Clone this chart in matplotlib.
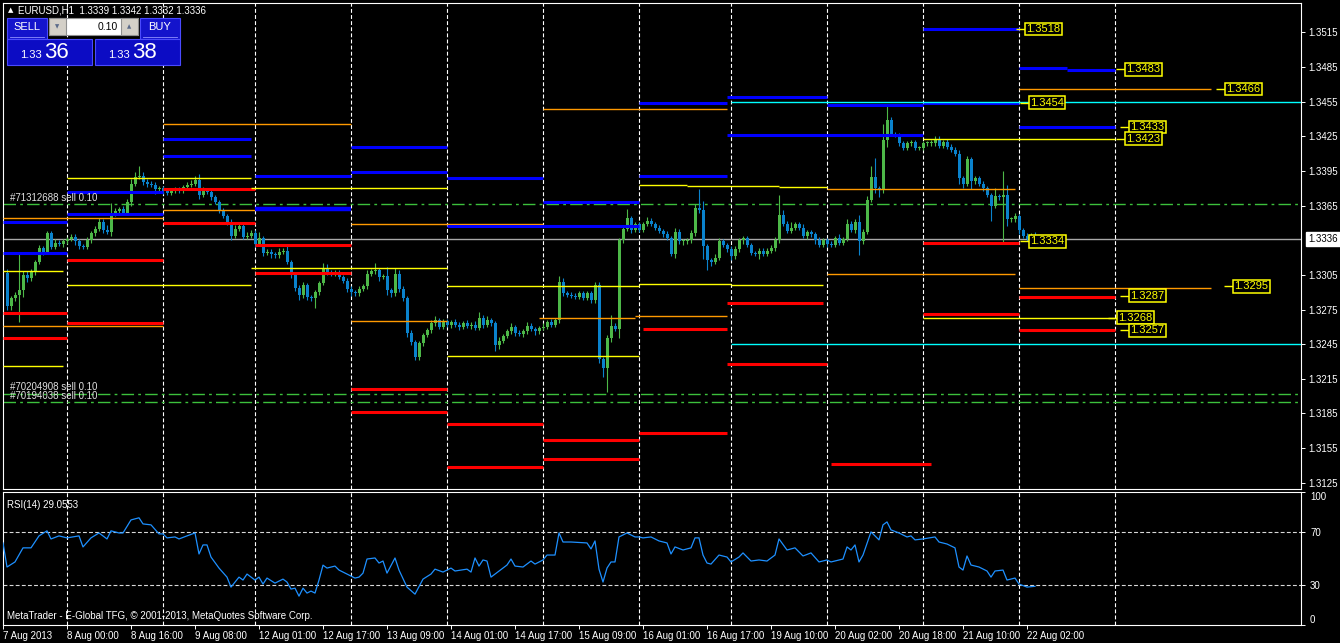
import matplotlib
matplotlib.use("Agg")
import matplotlib.pyplot as plt
from matplotlib.patches import Rectangle

# ---------------------------------------------------------------------------
# Theme (MetaTrader 4, black chart)
# ---------------------------------------------------------------------------
W, H = 1340, 643
BG = "#000000"
FG = "#FFFFFF"
BULL = "#4DB848"
BEAR = "#0A82CC"
RSI_COLOR = "#1E90FF"
ORDER_COLOR = "#3CC03C"
PIP = 0.0001
FONT = ["Liberation Sans", "DejaVu Sans"]
plt.rcParams["font.family"] = FONT

# ---------------------------------------------------------------------------
# Data: EURUSD H1, bar 0 = 7 Aug 2013 09:00 ... bar 257 = 22 Aug 04:00
# ---------------------------------------------------------------------------
first_open = 1.3307
close = [
    1.3278, 1.3285, 1.3288, 1.3292, 1.3305, 1.3302, 1.3308, 1.3316, 1.3328, 1.3325, 1.3341, 1.3329, 1.3333, 1.3332, 1.3334, 1.3336,
    1.3338, 1.3334, 1.3330, 1.3329, 1.3335, 1.3341, 1.3345, 1.3351, 1.3344, 1.3342, 1.3358, 1.3360, 1.3362, 1.3359, 1.3368, 1.3384,
    1.3390, 1.3391, 1.3385, 1.3384, 1.3383, 1.3379, 1.3380, 1.3378, 1.3376, 1.3378, 1.3379, 1.3378, 1.3381, 1.3383, 1.3384, 1.3387,
    1.3374, 1.3378, 1.3377, 1.3372, 1.3368, 1.3361, 1.3356, 1.3351, 1.3339, 1.3345, 1.3347, 1.3338, 1.3339, 1.3341, 1.3332, 1.3337,
    1.3324, 1.3325, 1.3323, 1.3322, 1.3325, 1.3326, 1.3316, 1.3305, 1.3294, 1.3288, 1.3296, 1.3286, 1.3285, 1.3290, 1.3298, 1.3311,
    1.3307, 1.3306, 1.3307, 1.3303, 1.3300, 1.3293, 1.3290, 1.3289, 1.3293, 1.3295, 1.3306, 1.3308, 1.3309, 1.3303, 1.3304, 1.3292,
    1.3289, 1.3306, 1.3293, 1.3285, 1.3255, 1.3247, 1.3234, 1.3246, 1.3253, 1.3257, 1.3263, 1.3266, 1.3260, 1.3265, 1.3262, 1.3264,
    1.3262, 1.3260, 1.3263, 1.3261, 1.3262, 1.3259, 1.3268, 1.3262, 1.3266, 1.3263, 1.3244, 1.3248, 1.3252, 1.3256, 1.3260, 1.3255,
    1.3254, 1.3256, 1.3261, 1.3258, 1.3256, 1.3259, 1.3260, 1.3264, 1.3262, 1.3266, 1.3299, 1.3289, 1.3288, 1.3287, 1.3286, 1.3289,
    1.3285, 1.3289, 1.3283, 1.3296, 1.3232, 1.3224, 1.3250, 1.3261, 1.3258, 1.3335, 1.3345, 1.3354, 1.3344, 1.3349, 1.3344, 1.3349,
    1.3352, 1.3349, 1.3346, 1.3343, 1.3340, 1.3337, 1.3323, 1.3342, 1.3334, 1.3334, 1.3335, 1.3341, 1.3363, 1.3361, 1.3330, 1.3318,
    1.3316, 1.3320, 1.3334, 1.3331, 1.3327, 1.3321, 1.3327, 1.3335, 1.3337, 1.3331, 1.3324, 1.3323, 1.3326, 1.3323, 1.3326, 1.3328,
    1.3335, 1.3357, 1.3349, 1.3343, 1.3346, 1.3349, 1.3346, 1.3339, 1.3342, 1.3340, 1.3335, 1.3331, 1.3335, 1.3332, 1.3331, 1.3337,
    1.3333, 1.3336, 1.3349, 1.3344, 1.3351, 1.3334, 1.3342, 1.3370, 1.3390, 1.3380, 1.3379, 1.3422, 1.3439, 1.3427, 1.3426, 1.3419,
    1.3415, 1.3419, 1.3420, 1.3415, 1.3415, 1.3419, 1.3419, 1.3419, 1.3423, 1.3417, 1.3420, 1.3416, 1.3413, 1.3410, 1.3389, 1.3384,
    1.3405, 1.3386, 1.3389, 1.3384, 1.3380, 1.3374, 1.3365, 1.3373, 1.3372, 1.3374, 1.3353, 1.3353, 1.3356, 1.3344, 1.3339, 1.3336, 1.3339, 1.3336,
]
# wick lengths above / below the body, in pips
wick_up = [
    3, 2, 2, 31, 3, 3, 2, 2, 3, 2, 2, 2, 3, 2, 2, 2,
    2, 2, 2, 2, 3, 2, 2, 3, 2, 4, 9, 3, 2, 3, 3, 4,
    4, 8, 3, 3, 2, 2, 2, 2, 2, 2, 2, 2, 2, 2, 3, 4,
    5, 3, 2, 2, 2, 2, 2, 2, 2, 3, 4, 2, 3, 3, 3, 5,
    2, 2, 2, 2, 3, 2, 6, 2, 2, 2, 3, 2, 2, 2, 2, 4,
    3, 2, 2, 2, 2, 2, 2, 2, 2, 2, 3, 2, 6, 2, 2, 8,
    2, 5, 3, 2, 2, 2, 2, 2, 2, 2, 3, 3, 2, 2, 2, 2,
    3, 2, 2, 3, 2, 3, 5, 2, 3, 2, 2, 3, 2, 2, 3, 2,
    2, 2, 3, 2, 2, 2, 3, 2, 3, 2, 5, 3, 2, 2, 2, 2,
    2, 2, 2, 3, 3, 2, 3, 9, 2, 2, 3, 8, 2, 2, 2, 2,
    3, 2, 2, 2, 2, 3, 2, 4, 3, 2, 2, 3, 3, 16, 8, 2,
    2, 3, 3, 2, 2, 3, 3, 2, 2, 2, 2, 2, 2, 2, 2, 3,
    3, 17, 4, 3, 5, 2, 2, 3, 2, 2, 2, 3, 2, 2, 2, 2,
    3, 2, 4, 3, 2, 6, 3, 3, 9, 16, 2, 14, 12, 3, 2, 2,
    2, 2, 2, 2, 2, 2, 2, 3, 2, 2, 2, 3, 2, 3, 3, 2,
    3, 2, 2, 2, 2, 2, 2, 7, 2, 21, 9, 2, 3, 2, 2, 2, 2, 3,
]
wick_dn = [
    3, 3, 3, 24, 6, 3, 2, 3, 2, 3, 2, 2, 2, 2, 3, 2,
    2, 3, 3, 2, 2, 2, 2, 2, 3, 2, 3, 2, 2, 2, 2, 3,
    2, 2, 2, 3, 2, 4, 2, 3, 2, 2, 2, 2, 2, 2, 2, 2,
    3, 2, 2, 2, 2, 2, 2, 3, 4, 2, 2, 2, 2, 2, 3, 2,
    3, 2, 3, 2, 2, 2, 2, 3, 3, 5, 3, 3, 3, 9, 2, 2,
    2, 2, 2, 2, 2, 3, 3, 2, 2, 2, 2, 2, 2, 3, 2, 4,
    3, 2, 3, 3, 4, 3, 3, 3, 3, 2, 2, 2, 2, 2, 2, 3,
    2, 3, 2, 2, 3, 2, 2, 3, 2, 2, 5, 3, 2, 2, 2, 3,
    2, 3, 2, 2, 3, 2, 2, 2, 2, 2, 3, 2, 2, 2, 2, 2,
    2, 2, 2, 2, 3, 7, 20, 3, 2, 8, 2, 2, 3, 2, 2, 2,
    2, 2, 2, 2, 2, 2, 2, 3, 2, 3, 2, 2, 2, 2, 11, 9,
    3, 2, 2, 2, 2, 3, 2, 2, 3, 2, 2, 2, 4, 2, 2, 2,
    2, 2, 2, 2, 2, 2, 2, 2, 3, 2, 3, 2, 2, 3, 2, 2,
    2, 2, 2, 2, 3, 12, 2, 2, 2, 4, 7, 3, 6, 2, 2, 2,
    2, 2, 2, 2, 2, 2, 2, 2, 2, 2, 2, 2, 2, 2, 5, 4,
    2, 7, 2, 2, 2, 2, 13, 2, 2, 39, 6, 2, 2, 4, 2, 2, 2, 4,
]

# RSI(14)
rsi_bar = [-1, 0, 2, 4, 6, 8, 10, 11, 13, 15, 18, 19, 21, 23, 25, 26, 28, 29, 31, 33, 34, 36, 38, 39, 40, 42, 43, 45, 47, 48,
           49, 50, 51, 53, 55, 56, 57, 58, 59, 60, 62, 63, 64, 65, 67, 69, 70, 71, 72, 73, 74, 75, 76, 77, 78, 79, 80, 82, 83, 85,
           87, 88, 89, 90, 92, 93, 94, 95, 97, 98, 100, 102, 104, 106, 107, 109, 111, 112, 115, 116, 117, 118, 119, 120, 121, 123, 125, 126, 127, 129,
           131, 132, 134, 135, 137, 138, 139, 141, 145, 146, 147, 148, 149, 150, 151, 152, 153, 155, 157, 158, 159, 161, 163, 165, 166, 167, 169, 171, 172, 173,
           174, 175, 176, 178, 180, 181, 183, 184, 186, 188, 190, 192, 193, 195, 197, 199, 201, 203, 205, 206, 209, 210, 211, 212, 213, 214, 216, 218, 219, 220,
           221, 223, 225, 226, 227, 229, 232, 233, 235, 237, 238, 239, 240, 241, 243, 245, 246, 247, 249, 250, 252, 253, 255, 257]
rsi_val = [61.7, 43.6, 47.4, 58.0, 58.0, 67.0, 70.8, 64.7, 67.0, 65.5, 67.0, 58.7, 65.5, 69.2, 64.7, 70.8, 69.2, 69.2, 79.0, 80.6, 76.0, 75.3, 68.5, 68.5, 65.5, 66.2, 64.7, 67.0, 69.2, 53.4,
           60.2, 60.2, 51.1, 42.8, 36.0, 28.5, 32.3, 36.0, 33.8, 38.3, 33.8, 36.0, 30.8, 35.3, 31.5, 34.5, 32.3, 27.0, 27.7, 21.7, 27.7, 24.0, 25.5, 24.0, 33.8, 45.0, 42.8, 44.3, 41.3, 38.3,
           35.3, 36.0, 39.0, 49.6, 50.4, 46.6, 48.1, 39.0, 50.4, 41.3, 28.5, 23.2, 34.5, 38.3, 42.0, 39.8, 42.8, 40.6, 42.0, 39.8, 50.4, 44.3, 48.9, 48.1, 36.0, 40.6, 45.1, 49.6, 44.3, 43.6,
           48.1, 45.8, 48.9, 52.6, 52.6, 69.2, 62.4, 62.4, 61.7, 57.2, 63.2, 42.0, 32.3, 42.8, 47.4, 47.4, 66.2, 69.2, 66.2, 66.2, 65.5, 66.2, 63.2, 61.7, 53.4, 58.7, 56.4, 58.0, 65.5, 65.5,
           52.6, 46.6, 45.8, 52.6, 51.1, 47.4, 51.1, 54.2, 48.1, 48.9, 48.1, 52.6, 64.7, 56.4, 58.0, 51.9, 54.2, 47.4, 48.9, 47.4, 49.6, 58.7, 56.4, 60.2, 47.4, 52.6, 70.0, 64.0, 75.3, 77.5,
           71.5, 69.2, 66.2, 67.0, 64.0, 64.7, 66.2, 62.4, 60.9, 58.0, 43.6, 41.3, 51.9, 45.1, 43.6, 40.6, 36.0, 40.6, 41.3, 33.8, 35.3, 30.8, 28.5, 29.1]
rsi_levels = [30, 70]
rsi_last = "29.0553"

# daily pivot / support / resistance segments (bar from, bar to, price, kind)
lv_start = [-1, -1, -1, -1, -1, -1, -1, -1,
            15, 15, 15, 15, 15, 15,
            39, 39, 39, 39, 39, 39,
            62, 61, 62, 62, 61, 62,
            86, 86, 86, 86, 86, 86,
            110, 110, 110, 110, 110, 110,
            134, 134, 133, 134, 134,
            158, 158, 158, 170, 193, 158, 157, 159, 158,
            180, 180, 181, 180, 180,
            205, 205, 205, 206,
            229, 229, 229, 229, 229, 229,
            253, 265, 253, 253, 253, 253, 253]
lv_end = [15, 15, 39, 14, 15, 39, 15, 14,
          39, 39, 61, 39, 61, 39,
          86, 61, 61, 62, 62, 62,
          86, 110, 86, 86, 110, 86,
          110, 110, 134, 110, 110, 110,
          134, 158, 158, 158, 134, 134,
          180, 158, 157, 158, 158,
          180, 180, 170, 193, 205, 181, 180, 180, 180,
          205, 229, 204, 204, 205,
          229, 252, 252, 231,
          253, 253, 277, 253, 253, 277,
          265, 277, 301, 277, 301, 277, 277]
lv_price = [1.3351, 1.3324, 1.3354, 1.3308, 1.3272, 1.3261, 1.3250, 1.3226,
            1.3358, 1.3377, 1.3389, 1.3318, 1.3296, 1.3263,
            1.3436, 1.3423, 1.3408, 1.3379, 1.3361, 1.3350,
            1.3391, 1.3380, 1.3362, 1.3331, 1.3311, 1.3307,
            1.3416, 1.3394, 1.3349, 1.3265, 1.3206, 1.3186,
            1.3389, 1.3347, 1.3295, 1.3235, 1.3176, 1.3139,
            1.3449, 1.3368, 1.3268, 1.3162, 1.3146,
            1.3454, 1.3391, 1.3383, 1.3382, 1.3381, 1.3297, 1.3269, 1.3258, 1.3168,
            1.3459, 1.3426, 1.3296, 1.3281, 1.3228,
            1.3452, 1.3379, 1.3306, 1.3141,
            1.3518, 1.3454, 1.3423, 1.3333, 1.3271, 1.3268,
            1.3484, 1.3482, 1.3466, 1.3433, 1.3294, 1.3286, 1.3257]
lv_kind = ["blue", "blue", "orange", "yellow", "red", "orange", "red", "yellow",
           "blue", "blue", "yellow", "red", "yellow", "red",
           "orange", "blue", "blue", "red", "orange", "red",
           "blue", "yellow", "blue2", "red", "yellow", "red",
           "blue", "blue", "orange", "orange", "red", "red",
           "blue", "blue", "yellow", "yellow", "red", "red",
           "orange", "blue", "orange", "red", "red",
           "blue", "blue", "yellow", "yellow", "yellow", "yellow", "orange", "red", "red",
           "blue", "blue", "yellow", "red", "red",
           "blue", "orange", "orange", "red",
           "blue", "blue", "yellow", "red", "red", "yellow",
           "blue", "blue", "orange", "blue", "orange", "red", "red"]

# full-width lines
cyan_prices = [1.3455, 1.3245]
cyan_from = 181
bid_price = 1.3336
order_prices = [1.3366, 1.3202, 1.3195]
order_texts = ["#71312688 sell 0.10", "#70204908 sell 0.10", "#70194038 sell 0.10"]

# price tags on the right side
tag_bar = [254.8, 255.8, 255.8, 279.8, 280.8, 279.8, 306.8, 280.8, 277.8, 280.8, 304.8]
tag_price = [1.3518, 1.3454, 1.3334, 1.3483, 1.3433, 1.3423, 1.3295, 1.3287, 1.3268, 1.3257, 1.3466]

# axes
price_ticks = [1.3515, 1.3485, 1.3455, 1.3425, 1.3395, 1.3365, 1.3305, 1.3275, 1.3245, 1.3215, 1.3185, 1.3155, 1.3125]
day_lines = [15, 39, 62, 86, 110, 134, 158, 181, 205, 229, 253, 277]
time_ticks = [-1, 15, 31, 47, 63, 79, 95, 111, 127, 143, 159, 175, 191, 207, 223, 239, 255]
time_labels = ["7 Aug 2013", "8 Aug 00:00", "8 Aug 16:00", "9 Aug 08:00", "12 Aug 01:00", "12 Aug 17:00",
               "13 Aug 09:00", "14 Aug 01:00", "14 Aug 17:00", "15 Aug 09:00", "16 Aug 01:00", "16 Aug 17:00",
               "19 Aug 10:00", "20 Aug 02:00", "20 Aug 18:00", "21 Aug 10:00", "22 Aug 02:00"]

STYLES = {
    "blue": ("#0000FF", 2.2),
    "blue2": ("#0000FF", 3.2),
    "red": ("#FF0000", 2.2),
    "orange": ("#FF9900", 1.0),
    "yellow": ("#FFFF00", 1.0),
}
GRID_DASH = (0, (3.5, 2.0))


def _frame(ax):
    ax.set_facecolor(BG)
    for s in ax.spines.values():
        s.set_color(FG)
        s.set_linewidth(0.8)
    ax.tick_params(colors=FG, labelsize=7, length=3, width=0.7)
    for x in day_lines:
        ax.axvline(x, color=FG, lw=0.8, ls=GRID_DASH, zorder=1)


fig = plt.figure(figsize=(W / 100, H / 100), dpi=100, facecolor=BG)
ax = fig.add_axes([3 / W, 1 - 489 / H, 1298 / W, 486 / H])
rx = fig.add_axes([3 / W, 1 - 625 / H, 1298 / W, 133 / H])
_frame(ax)
_frame(rx)

# ---------------------------------------------------------------------------
# Candles
# ---------------------------------------------------------------------------
n = len(close)
bars = list(range(n))
opens = [first_open] + close[:-1]
highs = [max(o, c) + u * PIP for o, c, u in zip(opens, close, wick_up)]
lows = [min(o, c) - d * PIP for o, c, d in zip(opens, close, wick_dn)]
colors = [BULL if c >= o else BEAR for o, c in zip(opens, close)]
ax.vlines(bars, lows, highs, colors=colors, lw=0.8, zorder=3)
ax.bar(bars, [max(abs(c - o), 0.00009) for o, c in zip(opens, close)],
       bottom=[min(o, c) for o, c in zip(opens, close)],
       width=0.75, color=colors, lw=0, zorder=3)

# ---------------------------------------------------------------------------
# Levels, order lines, bid line
# ---------------------------------------------------------------------------
for x0, x1, p, k in zip(lv_start, lv_end, lv_price, lv_kind):
    c, w = STYLES[k]
    ax.hlines(p, x0, x1, colors=c, lw=w, zorder=4)
for p in cyan_prices:
    ax.hlines(p, cyan_from, 324, colors="#00FFFF", lw=1.0, zorder=4)
ax.axhline(bid_price, color="#A8A8A8", lw=1.0, zorder=2.5)
for p, t in zip(order_prices, order_texts):
    ax.axhline(p, color=ORDER_COLOR, lw=1.0, ls=(0, (9, 3, 2, 3)), zorder=2)
    ax.text(0.8, p + 0.00012, t, color="#E0E0E0", fontsize=7, va="bottom", ha="left", zorder=5)

for b, p in zip(tag_bar, tag_price):
    ax.hlines(p, b - 2.6, b - 0.3, colors="#FFFF00", lw=1.0, zorder=5)
    ax.text(b, p, f"{p:.4f}", color="#FFFF00", fontsize=8, va="center", ha="left", zorder=6,
            bbox=dict(boxstyle="square,pad=0.12", fc=BG, ec="#FFFF00", lw=1.1))

ax.set_xlim(-1, 323.5)
ax.set_ylim(1.31196, 1.35404)
ax.yaxis.tick_right()
ax.set_yticks(price_ticks)
ax.set_yticklabels([f"{t:.4f}" for t in price_ticks])
ax.tick_params(axis="x", bottom=False, labelbottom=False)
ax.tick_params(axis="y", pad=2)
ax.annotate(f"{bid_price:.4f}", xy=(1, bid_price), xycoords=("axes fraction", "data"),
            xytext=(5, 0), textcoords="offset points", va="center", ha="left",
            fontsize=7, color="black",
            bbox=dict(boxstyle="square,pad=0.2", fc=FG, ec=FG), annotation_clip=False)

# ---------------------------------------------------------------------------
# RSI panel
# ---------------------------------------------------------------------------
for lvl in rsi_levels:
    rx.axhline(lvl, color="#D8D8D8", lw=0.8, ls=GRID_DASH, zorder=1)
rx.plot(rsi_bar, rsi_val, color=RSI_COLOR, lw=0.9, zorder=3)
rx.set_xlim(-1, 323.5)
rx.set_ylim(0, 100)
rx.yaxis.tick_right()
rx.set_yticks([0, 30, 70, 100])
rx.set_yticklabels(["0", "30", "70", "100"])
ylab = rx.get_yticklabels()
ylab[0].set_va("bottom")
ylab[-1].set_va("top")
rx.set_xticks(time_ticks)
rx.set_xticklabels(time_labels, ha="left")
rx.tick_params(axis="x", pad=1)
rx.text(0.003, 0.94, f"RSI(14) {rsi_last}", transform=rx.transAxes,
        color=FG, fontsize=7, va="top", ha="left")
rx.text(0.003, 0.03, "MetaTrader - E-Global TFG, \u00a9 2001-2013, MetaQuotes Software Corp.",
        transform=rx.transAxes, color=FG, fontsize=7, va="bottom", ha="left")

# ---------------------------------------------------------------------------
# One-click trading panel and header (screen pixels)
# ---------------------------------------------------------------------------
ui = fig.add_axes([0, 0, 1, 1], zorder=10)
ui.set_xlim(0, W)
ui.set_ylim(H, 0)
ui.axis("off")
ui.patch.set_alpha(0)

ui.text(8, 10.5, "\u25b2", color=FG, fontsize=5, va="center", ha="left", family=["DejaVu Sans"])
ui.text(18, 10.5, "EURUSD,H1  1.3339 1.3342 1.3332 1.3336", color=FG, fontsize=7, va="center", ha="left")

BTN = "#1414CC"
BTN_EDGE = "#4A4AFF"
for x0, label in [(7, "SELL"), (140, "BUY")]:
    ui.add_patch(Rectangle((x0, 18), 40, 21, fc=BTN, ec=BTN_EDGE, lw=0.8))
    ui.plot([x0 + 3, x0 + 37], [37, 37], color="#9090FF", lw=0.6)
    ui.text(x0 + 20, 27.5, label, color=FG, fontsize=8, va="center", ha="center")
ui.add_patch(Rectangle((49, 18), 89, 17, fc=FG, ec="#909090", lw=0.8))
ui.add_patch(Rectangle((49, 18), 17, 17, fc="#D4D0C8", ec="#909090", lw=0.8))
ui.add_patch(Rectangle((121, 18), 17, 17, fc="#D4D0C8", ec="#909090", lw=0.8))
ui.text(57.5, 26.5, "\u25bc", color="#5A6A8A", fontsize=4, va="center", ha="center", family=["DejaVu Sans"])
ui.text(129.5, 26.5, "\u25b2", color="#5A6A8A", fontsize=4, va="center", ha="center", family=["DejaVu Sans"])
ui.text(118, 27, "0.10", color="black", fontsize=7.5, va="center", ha="right")
for x0, big in [(7, "36"), (95, "38")]:
    ui.add_patch(Rectangle((x0, 39), 85, 26, fc="#0C0CC4", ec=BTN_EDGE, lw=0.8))
    ui.text(x0 + 13, 55, "1.33", color=FG, fontsize=8, va="center", ha="left")
    ui.text(x0 + 37, 52, big, color=FG, fontsize=16, va="center", ha="left")

fig.savefig("out.png", dpi=100, facecolor=BG)
